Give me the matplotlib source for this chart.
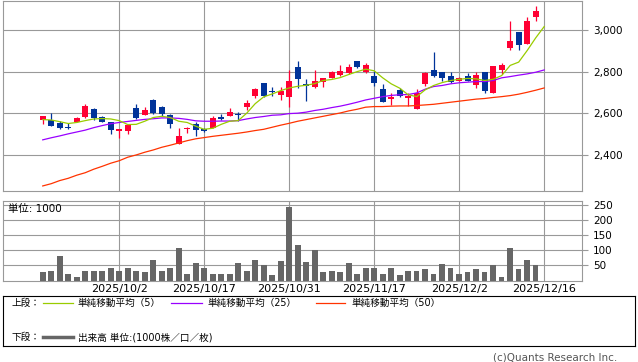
import matplotlib
matplotlib.use('Agg')
import matplotlib.pyplot as plt
import numpy as np

plt.rcParams['font.family'] = ['DejaVu Sans', 'Noto Sans CJK JP']

# trading days shown (last one, 12/16, only carries the moving averages)
dates = ['2025/9/18', '2025/9/19', '2025/9/22', '2025/9/24', '2025/9/25', '2025/9/26',
         '2025/9/29', '2025/9/30', '2025/10/1', '2025/10/2', '2025/10/3', '2025/10/6',
         '2025/10/7', '2025/10/8', '2025/10/9', '2025/10/10', '2025/10/14', '2025/10/15',
         '2025/10/16', '2025/10/17', '2025/10/20', '2025/10/21', '2025/10/22', '2025/10/23',
         '2025/10/24', '2025/10/27', '2025/10/28', '2025/10/29', '2025/10/30', '2025/10/31',
         '2025/11/4', '2025/11/5', '2025/11/6', '2025/11/7', '2025/11/10', '2025/11/11',
         '2025/11/12', '2025/11/13', '2025/11/14', '2025/11/17', '2025/11/18', '2025/11/19',
         '2025/11/20', '2025/11/21', '2025/11/25', '2025/11/26', '2025/11/27', '2025/11/28',
         '2025/12/1', '2025/12/2', '2025/12/3', '2025/12/4', '2025/12/5', '2025/12/8',
         '2025/12/9', '2025/12/10', '2025/12/11', '2025/12/12', '2025/12/15', '2025/12/16']

tick_labels = ['2025/10/2', '2025/10/17', '2025/10/31', '2025/11/17', '2025/12/2', '2025/12/16']

opens = [2567, 2569, 2552, 2533, 2555, 2580, 2622, 2580, 2559, 2513,
         2513, 2627, 2590, 2666, 2632, 2592, 2450, 2522, 2550, 2522,
         2530, 2580, 2585, 2597, 2629, 2682, 2748, 2709, 2690, 2677,
         2821, 2739, 2726, 2753, 2769, 2784, 2793, 2852, 2798, 2782,
         2719, 2668, 2714, 2674, 2619, 2740, 2811, 2797, 2782, 2755,
         2782, 2735, 2801, 2697, 2811, 2914, 2995, 2934, 3063]
highs = [2588, 2603, 2560, 2552, 2580, 2642, 2624, 2585, 2559, 2524,
         2545, 2643, 2632, 2668, 2637, 2595, 2530, 2535, 2559, 2527,
         2584, 2597, 2626, 2608, 2666, 2720, 2748, 2729, 2729, 2811,
         2850, 2763, 2811, 2772, 2803, 2831, 2840, 2852, 2845, 2806,
         2743, 2697, 2722, 2700, 2716, 2797, 2898, 2797, 2801, 2777,
         2792, 2801, 2801, 2826, 2845, 3044, 2995, 3063, 3116]
lows = [2546, 2537, 2525, 2522, 2555, 2578, 2569, 2556, 2498, 2479,
        2498, 2574, 2590, 2597, 2588, 2530, 2450, 2503, 2488, 2508,
        2530, 2566, 2585, 2561, 2616, 2674, 2679, 2682, 2664, 2629,
        2722, 2658, 2722, 2726, 2769, 2779, 2790, 2818, 2793, 2730,
        2653, 2638, 2677, 2637, 2619, 2732, 2774, 2758, 2745, 2755,
        2755, 2722, 2697, 2697, 2790, 2905, 2905, 2934, 3048]
closes = [2588, 2537, 2530, 2530, 2576, 2637, 2576, 2556, 2517, 2522,
          2542, 2576, 2617, 2603, 2595, 2546, 2492, 2530, 2517, 2513,
          2579, 2571, 2605, 2590, 2651, 2719, 2682, 2703, 2709, 2758,
          2764, 2730, 2755, 2772, 2798, 2806, 2821, 2822, 2831, 2745,
          2653, 2680, 2682, 2685, 2700, 2792, 2779, 2769, 2753, 2768,
          2755, 2787, 2706, 2826, 2831, 2947, 2929, 3048, 3092]

# volume, unit 1000
volume = [27, 30, 80, 23, 10, 30, 30, 33, 40, 30,
          40, 33, 27, 67, 33, 40, 107, 23, 57, 43,
          23, 20, 20, 57, 30, 67, 50, 17, 63, 243,
          117, 60, 100, 27, 30, 27, 57, 23, 43, 43,
          23, 40, 17, 30, 30, 37, 20, 53, 40, 23,
          27, 37, 27, 50, 13, 107, 37, 67, 50]

ma5 = [2569, 2567, 2559, 2550, 2555, 2564, 2572, 2574, 2572, 2564,
       2545, 2546, 2561, 2579, 2585, 2579, 2561, 2555, 2537, 2522,
       2527, 2546, 2561, 2564, 2600, 2646, 2679, 2693, 2709, 2722,
       2730, 2735, 2743, 2758, 2763, 2772, 2787, 2801, 2813, 2805,
       2771, 2742, 2721, 2689, 2680, 2713, 2734, 2748, 2758, 2764,
       2768, 2766, 2758, 2764, 2782, 2831, 2847, 2903, 2964, 3019]
ma25 = [2471, 2481, 2490, 2500, 2509, 2518, 2530, 2540, 2549, 2555,
        2560, 2565, 2570, 2573, 2577, 2577, 2575, 2570, 2563, 2561,
        2561, 2562, 2562, 2564, 2572, 2579, 2584, 2590, 2592, 2598,
        2600, 2605, 2613, 2619, 2627, 2634, 2643, 2653, 2664, 2672,
        2680, 2686, 2689, 2690, 2698, 2716, 2729, 2734, 2742, 2747,
        2750, 2753, 2753, 2758, 2771, 2777, 2784, 2790, 2798, 2809]
ma50 = [2248, 2259, 2274, 2285, 2300, 2312, 2329, 2343, 2358, 2370,
        2387, 2398, 2411, 2422, 2435, 2445, 2456, 2467, 2476, 2482,
        2488, 2493, 2498, 2503, 2509, 2516, 2522, 2532, 2542, 2551,
        2561, 2569, 2577, 2585, 2593, 2601, 2611, 2619, 2629, 2632,
        2632, 2634, 2635, 2635, 2637, 2640, 2643, 2648, 2653, 2658,
        2663, 2668, 2671, 2676, 2680, 2685, 2692, 2701, 2711, 2722]

W, H = 638, 362
UP, DOWN = '#ff0033', '#003399'
GRID = '#999999'

fig = plt.figure(figsize=(W / 100, H / 100), dpi=100)
fig.patch.set_facecolor('white')

x = np.arange(len(dates))
xc = x[:len(closes)]
tick_pos = [dates.index(t) for t in tick_labels]
xmin, xmax = -4.64, 63.45


def style_panel(ax):
    ax.set_xlim(xmin, xmax)
    ax.set_xticks(tick_pos)
    ax.grid(True, color=GRID, lw=0.8)
    ax.set_axisbelow(True)
    for s in ax.spines.values():
        s.set_color(GRID)
        s.set_linewidth(0.8)
    ax.yaxis.tick_right()
    ax.tick_params(axis='y', direction='out', length=4.5, width=0.8, color=GRID,
                   pad=3.5, labelsize=7.5)
    ax.tick_params(axis='x', length=0)


# --- price panel ---
ax1 = fig.add_axes([3.3 / W, 1 - 190.5 / H, 578.7 / W, 190 / H])
style_panel(ax1)
ax1.set_ylim(2226, 3145)
ax1.set_yticks([2400, 2600, 2800, 3000])
ax1.set_yticklabels([f'{v:,}' for v in [2400, 2600, 2800, 3000]])
ax1.set_xticklabels([])

for i in xc:
    o, h, l, c = opens[i], highs[i], lows[i], closes[i]
    col = UP if c >= o else DOWN
    ax1.vlines(i, l, h, color=col, lw=0.9, zorder=2)
    ax1.bar(i, max(abs(c - o), 4), bottom=min(o, c), width=0.7, color=col, zorder=2)

ax1.plot(x, ma50, color='#ff3300', lw=0.9, zorder=3)
ax1.plot(x, ma25, color='#9900ff', lw=0.9, zorder=3)
ax1.plot(x, ma5, color='#99cc00', lw=0.9, zorder=3)

# --- volume panel ---
ax2 = fig.add_axes([3.3 / W, 1 - 280.5 / H, 578.7 / W, 79.5 / H])
style_panel(ax2)
ax2.set_ylim(0, 263)
ax2.set_yticks([50, 100, 150, 200, 250])
ax2.bar(xc, volume, width=0.66, color='#666666', zorder=2)
ax2.set_xticklabels(tick_labels, fontsize=8)
ax2.tick_params(axis='x', pad=2.5)
fig.text(8 / W, 1 - 209 / H, '単位: 1000', fontsize=7.5, va='center', ha='left')

# --- legend box ---
ax3 = fig.add_axes([3.3 / W, 1 - 346 / H, 631.7 / W, 50.3 / H])
ax3.set_xlim(3.3, 635)
ax3.set_ylim(346, 295.7)
ax3.set_xticks([])
ax3.set_yticks([])
for s in ax3.spines.values():
    s.set_color('black')
    s.set_linewidth(0.8)

fs = 6.9
ax3.text(12, 303, '上段：', fontsize=fs, va='center')
ax3.plot([43, 73], [303, 303], color='#99cc00', lw=0.9)
ax3.text(78, 303, '単純移動平均（5）', fontsize=fs, va='center')
ax3.plot([171, 202], [303, 303], color='#9900ff', lw=0.9)
ax3.text(207, 303, '単純移動平均（25）', fontsize=fs, va='center')
ax3.plot([316, 345], [303, 303], color='#ff3300', lw=0.9)
ax3.text(351, 303, '単純移動平均（50）', fontsize=fs, va='center')
ax3.text(12, 337, '下段：', fontsize=fs, va='center')
ax3.plot([43, 73], [337, 337], color='#666666', lw=2.5)
ax3.text(78, 337, '出来高 単位:(1000株／口／枚)', fontsize=fs, va='center')

fig.text(617 / W, 1 - 357.5 / H, '(c)Quants Research Inc.', fontsize=7.5,
         color='#555555', ha='right', va='center')

fig.savefig('out.png', dpi=100, facecolor='white')
